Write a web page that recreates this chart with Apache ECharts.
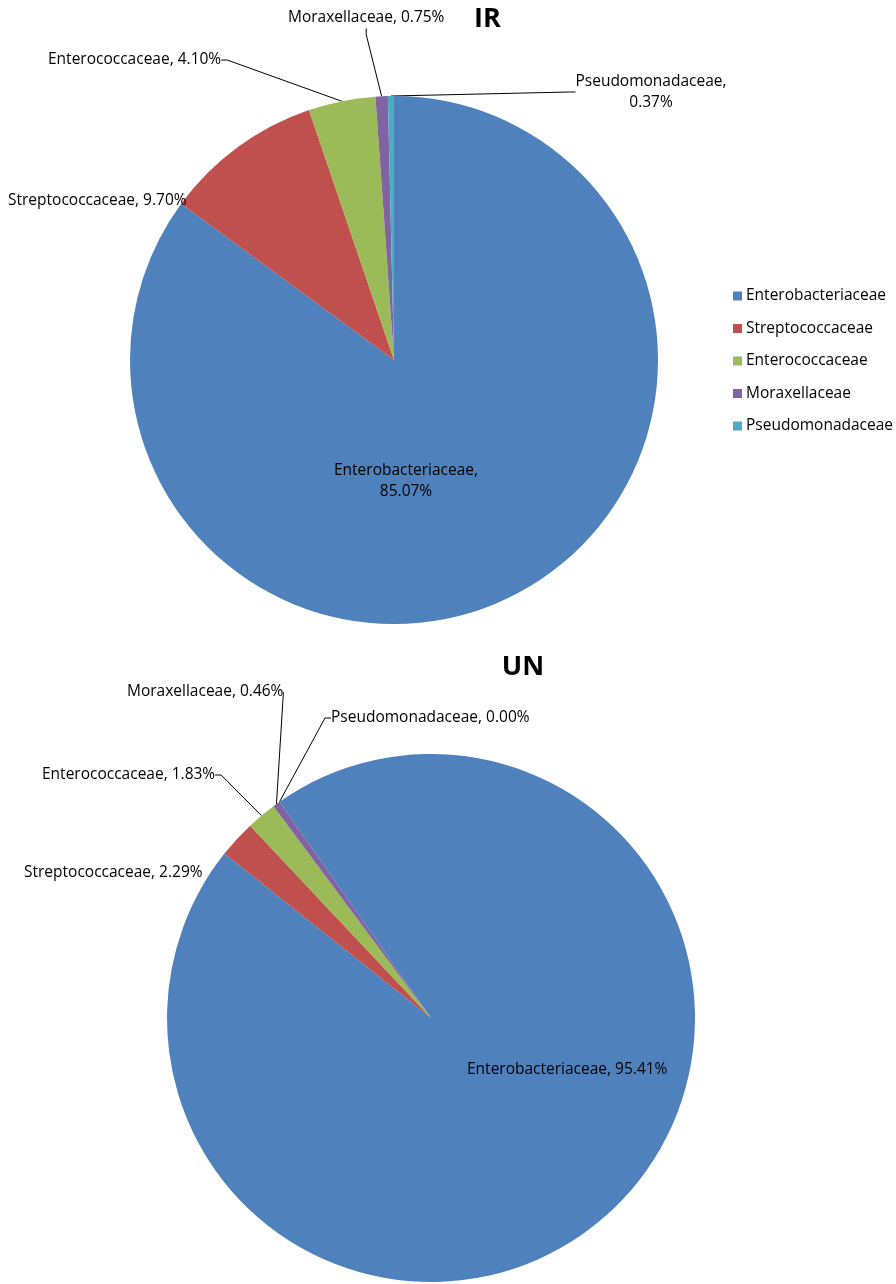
<!DOCTYPE html>
<html>
<head>
<meta charset="utf-8">
<script src="https://cdn.jsdelivr.net/npm/echarts@6/dist/echarts.min.js"></script>
<style>
html,body{margin:0;padding:0;background:#fff;}
#c{width:896px;height:1284px;}
</style>
</head>
<body>
<div id="c"></div>
<script>
// ---- data ----
const categories = ['Enterobacteriaceae', 'Streptococcaceae', 'Enterococcaceae', 'Moraxellaceae', 'Pseudomonadaceae'];
const irValues = [85.07, 9.70, 4.10, 0.75, 0.37];
const unValues = [95.41, 2.29, 1.83, 0.46, 0.00];
const chartTitles = ['IR', 'UN'];

// ---- style / layout ----
const colors = ['#4F81BD', '#C0504D', '#9BBB59', '#8064A2', '#4BACC6'];
const FONT = 'Open Sans';
const FS = 15.5;
// label anchor positions [x, y, align]
const irLabelPos = [[406, 481, 'center'], [8, 201, 'left'], [48, 60, 'left'], [288, 18, 'left'], [651, 92, 'center']];
const unLabelPos = [[467, 1070, 'left'], [24, 873, 'left'], [42, 775, 'left'], [127, 692, 'left'], [331, 718, 'left']];

function fmt(v){ return v.toFixed(2) + '%'; }

function buildData(values) {
  return categories.map((name, i) => {
    const item = { name: name, value: values[i] };
    if (i === 0) {
      item.label = { position: 'inside' };
      item.labelLine = { show: false };
    }
    if (i === 1) item.labelLine = { show: false };
    return item;
  });
}

function labelFormatter(multi) {
  return function (p) {
    const v = fmt(p.value);
    if (multi.indexOf(p.dataIndex) >= 0) return p.name + ',\n' + v;
    return p.name + ', ' + v;
  };
}

function layoutFn(pos) {
  return function (params) {
    const p = pos[params.dataIndex];
    return { x: p[0], y: p[1], align: p[2], verticalAlign: 'middle' };
  };
}

function makeSeries(values, center, startAngle, pos, multi) {
  return {
    type: 'pie',
    center: center,
    radius: 264,
    startAngle: startAngle,
    clockwise: true,
    avoidLabelOverlap: false,
    minShowLabelAngle: 0,
    stillShowZeroSum: true,
    silent: true,
    animation: false,
    itemStyle: { borderWidth: 0 },
    label: {
      show: true,
      position: 'outside',
      formatter: labelFormatter(multi),
      fontFamily: FONT,
      fontSize: FS,
      color: '#000',
      lineHeight: 21,
      align: 'center'
    },
    labelLine: {
      show: true,
      length: 20,
      length2: 6,
      lineStyle: { color: '#000', width: 1 }
    },
    labelLayout: layoutFn(pos),
    data: buildData(values)
  };
}

const chart = echarts.init(document.getElementById('c'), null, { renderer: 'canvas' });
chart.setOption({
  backgroundColor: '#fff',
  color: colors,
  animation: false,
  title: [
    { text: chartTitles[0], left: 482.5, top: 14, textAlign: 'center', textVerticalAlign: 'middle',
      textStyle: { fontFamily: FONT, fontWeight: 'bold', fontSize: 27, color: '#000' } },
    { text: chartTitles[1], left: 518, top: 662, textAlign: 'center', textVerticalAlign: 'middle',
      textStyle: { fontFamily: FONT, fontWeight: 'bold', fontSize: 27, color: '#000' } }
  ],
  legend: {
    orient: 'vertical',
    left: 728,
    top: 283,
    itemWidth: 9,
    itemHeight: 9,
    itemGap: 16.5,
    icon: 'rect',
    selectedMode: false,
    data: categories,
    textStyle: { fontFamily: FONT, fontSize: FS, color: '#000', padding: [0, 0, 0, -1] }
  },
  series: [
    makeSeries(irValues, [394, 360], 90, irLabelPos, [0, 4]),
    makeSeries(unValues, [431, 1018], 125, unLabelPos, [])
  ]
});
</script>
</body>
</html>
